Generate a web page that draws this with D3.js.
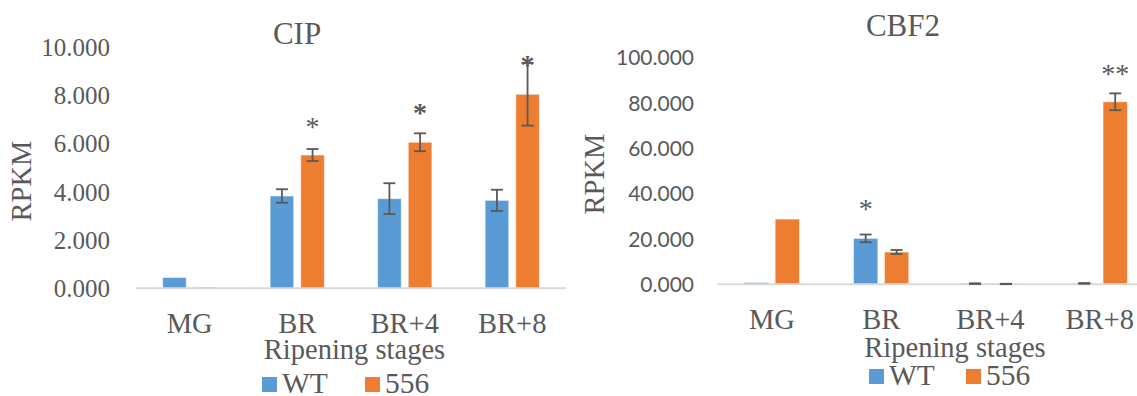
<!DOCTYPE html>
<html>
<head>
<meta charset="utf-8">
<script src="https://cdn.jsdelivr.net/npm/d3@7"></script>
<style>
  html, body { margin: 0; padding: 0; background: #fff; }
  svg { display: block; }
  text { fill: #595959; }
</style>
</head>
<body>
<svg id="chart" width="1137" height="396"></svg>
<script>
// Ripening stages and genotypes
const stages = ["MG", "BR", "BR+4", "BR+8"];
const lines = ["WT", "556"];

// CIP expression (RPKM) with standard errors
const cipWT = [0.45, 3.83, 3.72, 3.65];
const cip556 = [0.05, 5.53, 6.06, 8.05];
const cipWTErr = [0, 0.28, 0.64, 0.44];
const cip556Err = [0, 0.25, 0.37, 1.3];
const cipTicks = [0, 2, 4, 6, 8, 10];
// significance marks: stage, genotype, symbol, height (RPKM)
const cipMarks = [
  ["BR", "556", "*", 6.9, false],
  ["BR+4", "556", "*", 7.48, true],
  ["BR+8", "556", "*", 9.47, true]
];

// CBF2 expression (RPKM) with standard errors
const cbfWT = [0.8, 20.2, 0.3, 0.4];
const cbf556 = [28.7, 14.2, 0.15, 80.3];
const cbfWTErr = [0, 1.7, 0.15, 0.15];
const cbf556Err = [0, 0.9, 0.08, 3.7];
const cbfTicks = [0, 20, 40, 60, 80, 100];
const cbfMarks = [
  ["BR", "WT", "*", 34.9, false],
  ["BR+8", "556", "**", 94.6, false]
];

const colors = { "WT": "#5B9BD5", "556": "#ED7D31" };
const serif = "'Liberation Serif', 'Times New Roman', serif";
const sans = "Lato, 'Open Sans', sans-serif";
const fmt = d3.format(".3f");

const svg = d3.select("#chart");

function drawPanel(cfg) {
  const g = svg.append("g");
  const x = d3.scaleBand().domain(stages).range(cfg.xRange).paddingInner(0).paddingOuter(0);
  const y = d3.scaleLinear().domain(cfg.yDomain).range(cfg.yRange);
  const step = x.bandwidth();
  const bw = step * cfg.barFrac;
  const gap = step * cfg.gapFrac;
  // offset of each genotype's bar inside a stage band
  const inner = d3.scaleBand().domain(lines)
    .range([step / 2 - gap / 2 - bw, step / 2 + gap / 2 + bw])
    .paddingInner(gap / (bw + gap / 2) / 2).paddingOuter(0);
  const barX = (s, l) => x(s) + (l === "WT" ? step / 2 - gap / 2 - bw : step / 2 + gap / 2);
  const barC = (s, l) => barX(s, l) + bw / 2;

  // y tick labels
  const yAxis = d3.axisLeft(y).tickValues(cfg.ticks).tickFormat(fmt).tickSize(0).tickPadding(0);
  const ya = g.append("g").attr("transform", `translate(${cfg.tickRight},0)`).call(yAxis);
  ya.select(".domain").remove();
  ya.selectAll("text")
    .attr("font-family", cfg.tickFont)
    .attr("font-size", cfg.tickSize)
    .attr("fill", "#595959")
    .attr("dy", cfg.tickDy);

  // bars
  const data = [];
  stages.forEach((s, i) => {
    data.push({ s, l: "WT", v: cfg.wt[i], e: cfg.wtErr[i] });
    data.push({ s, l: "556", v: cfg.mut[i], e: cfg.mutErr[i] });
  });
  g.append("g").selectAll("rect").data(data).join("rect")
    .attr("x", d => barX(d.s, d.l))
    .attr("width", bw)
    .attr("y", d => y(d.v))
    .attr("height", d => y(0) - y(d.v))
    .attr("fill", d => colors[d.l])
    .attr("stroke", "#ffffff")
    .attr("stroke-opacity", 0.55)
    .attr("stroke-width", 1);

  // category axis line
  g.append("line")
    .attr("x1", cfg.xRange[0]).attr("x2", cfg.xRange[1])
    .attr("y1", y(0)).attr("y2", y(0))
    .attr("stroke", "#D9D9D9").attr("stroke-width", 2);

  // error bars
  const eb = g.append("g").attr("stroke", "#595959").attr("stroke-width", 1.8).attr("fill", "none");
  data.filter(d => d.e > 0).forEach(d => {
    const cx = barC(d.s, d.l);
    const cap = 6;
    eb.append("line").attr("x1", cx).attr("x2", cx).attr("y1", y(d.v + d.e)).attr("y2", y(d.v - d.e));
    eb.append("line").attr("x1", cx - cap).attr("x2", cx + cap).attr("y1", y(d.v + d.e)).attr("y2", y(d.v + d.e));
    eb.append("line").attr("x1", cx - cap).attr("x2", cx + cap).attr("y1", y(d.v - d.e)).attr("y2", y(d.v - d.e));
  });

  // significance marks
  g.append("g").selectAll("text").data(cfg.marks).join("text")
    .attr("x", d => barC(d[0], d[1]))
    .attr("y", d => y(d[3]) + 13.5)
    .attr("text-anchor", "middle")
    .attr("font-family", serif)
    .attr("font-size", 28)
    .attr("font-weight", d => d[4] ? "bold" : "normal")
    .attr("fill", d => d[4] ? "#404040" : "#595959")
    .text(d => d[2]);

  // category labels
  g.append("g").selectAll("text").data(stages).join("text")
    .attr("x", s => x(s) + step / 2)
    .attr("y", cfg.catY)
    .attr("text-anchor", "middle")
    .attr("font-family", serif)
    .attr("font-size", 28.5)
    .text(s => s);

  // axis titles
  g.append("text")
    .attr("x", cfg.xTitle[0]).attr("y", cfg.xTitle[1])
    .attr("text-anchor", "middle")
    .attr("font-family", serif).attr("font-size", 28.5)
    .text("Ripening stages");
  g.append("text")
    .attr("transform", `translate(${cfg.yTitle[0]},${cfg.yTitle[1]}) rotate(-90)`)
    .attr("text-anchor", "middle")
    .attr("font-family", serif).attr("font-size", 28.5)
    .text("RPKM");

  // chart title
  g.append("text")
    .attr("x", cfg.title[1]).attr("y", cfg.title[2])
    .attr("text-anchor", "middle")
    .attr("font-family", serif).attr("font-size", 31)
    .text(cfg.title[0]);

  // legend
  const lg = g.append("g");
  lines.forEach((l, i) => {
    const lx = cfg.legend[0] + i * cfg.legend[2];
    lg.append("rect")
      .attr("x", lx).attr("y", cfg.legend[1] - 15)
      .attr("width", 15).attr("height", 15)
      .attr("fill", colors[l]);
    lg.append("text")
      .attr("x", lx + 20).attr("y", cfg.legend[1] + 1)
      .attr("font-family", serif).attr("font-size", 29.5)
      .text(l);
  });
}

drawPanel({
  wt: cipWT, mut: cip556, wtErr: cipWTErr, mutErr: cip556Err,
  ticks: cipTicks, marks: cipMarks,
  xRange: [136, 566], yDomain: [0, 10], yRange: [288.3, 47.3],
  barFrac: 0.22, gapFrac: 0.065,
  tickRight: 110, tickFont: serif, tickSize: 25, tickDy: "0.33em",
  catY: 333, xTitle: [354.5, 358.5], yTitle: [31, 181],
  title: ["CIP", 297, 43.5], legend: [262, 392, 103]
});

drawPanel({
  wt: cbfWT, mut: cbf556, wtErr: cbfWTErr, mutErr: cbf556Err,
  ticks: cbfTicks, marks: cbfMarks,
  xRange: [717.2, 1154.4], yDomain: [0, 100], yRange: [284.3, 57],
  barFrac: 0.223, gapFrac: 0.06,
  tickRight: 694, tickFont: sans, tickSize: 21, tickDy: "0.36em",
  catY: 328.5, xTitle: [955, 356.5], yTitle: [604, 174],
  title: ["CBF2", 903, 36], legend: [869, 384, 97]
});
</script>
</body>
</html>
